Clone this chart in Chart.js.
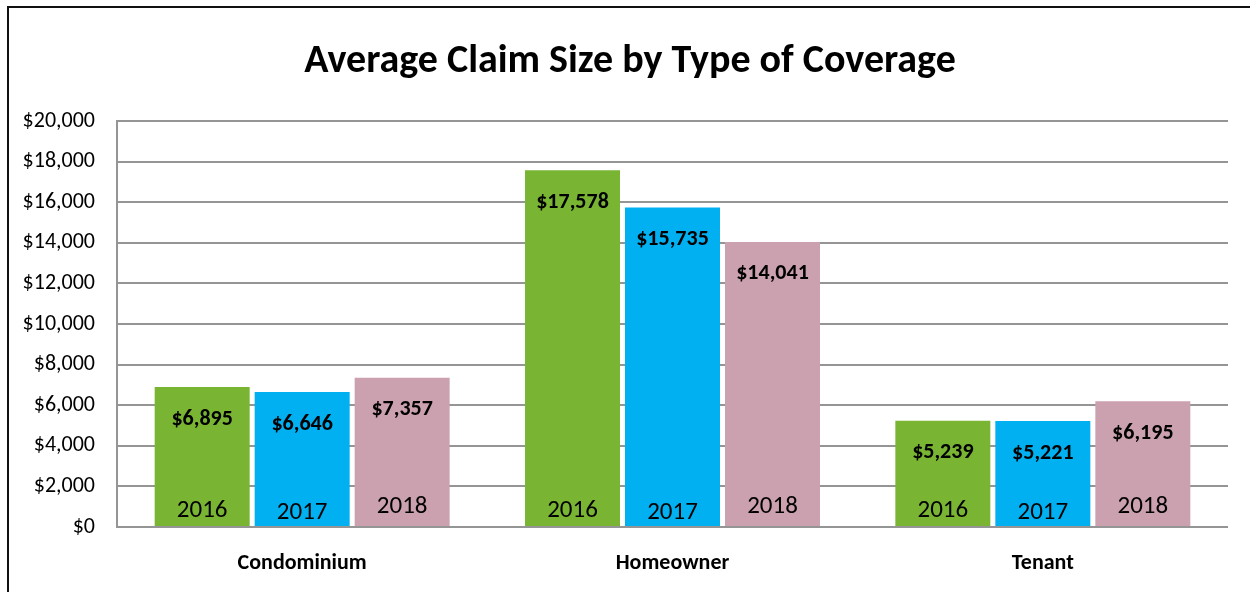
<!DOCTYPE html>
<html>
<head>
<meta charset="utf-8">
<script src="https://cdn.jsdelivr.net/npm/chart.js@4.4.0/dist/chart.umd.min.js"></script>
<style>
  html, body { margin: 0; padding: 0; background: #fff; }
  #wrap { position: relative; width: 1250px; height: 592px; overflow: hidden; }
  #frame { position: absolute; left: 7px; top: 6px; width: 1300px; height: 700px; border: 2px solid #111; box-sizing: border-box; }
  canvas { position: absolute; left: 0; top: 0; }
</style>
</head>
<body>
<div id="wrap">
  <div id="frame"></div>
  <canvas id="mychart" width="1250" height="592"></canvas>
</div>
<script>
var coverage = ['Condominium', 'Homeowner', 'Tenant']
var years = ['2016', '2017', '2018']
var claims2016 = [6895, 17578, 5239]
var claims2017 = [6646, 15735, 5221]
var claims2018 = [7357, 14041, 6195]
var yTicks = [0, 2000, 4000, 6000, 8000, 10000, 12000, 14000, 16000, 18000, 20000]
var chartTitle = 'Average Claim Size by Type of Coverage'

var fontFamily = "Carlito, 'Liberation Sans Narrow', 'DejaVu Sans Condensed', 'Open Sans', sans-serif"
var barColors = ['#79B433', '#00B0F0', '#CCA1AF']
var yearOffset = [15, 13, 19]

function money(v) {
    return '$' + v.toLocaleString('en-US')
}

// title drawn here so it can sit centred on the frame, not on the padded box
var titlePlugin = {
    id: 'titlePlugin',
    afterDraw: function (chart) {
        var ctx = chart.ctx
        ctx.save()
        ctx.fillStyle = '#000'
        ctx.textAlign = 'center'
        ctx.textBaseline = 'middle'
        ctx.font = 'bold 40px ' + fontFamily
        ctx.fillText(chartTitle, 630, 62)
        ctx.restore()
    }
}

var barLabels = {
    id: 'barLabels',
    afterDatasetsDraw: function (chart) {
        var ctx = chart.ctx
        ctx.save()
        ctx.fillStyle = '#000'
        ctx.textAlign = 'center'
        ctx.textBaseline = 'middle'
        chart.data.datasets.forEach(function (ds, i) {
            var meta = chart.getDatasetMeta(i)
            meta.data.forEach(function (bar, j) {
                ctx.font = 'bold 22px ' + fontFamily
                ctx.fillText(money(ds.data[j]), bar.x, bar.y + 32)
                ctx.font = '25px ' + fontFamily
                ctx.fillText(ds.label, bar.x, bar.base - yearOffset[i])
            })
        })
        ctx.restore()
    }
}

var myChart = document.getElementById('mychart').getContext('2d')

var chart = new Chart(myChart, {
    type: 'bar',
    data: {
        labels: coverage,
        datasets: [
            { label: years[0], data: claims2016, backgroundColor: barColors[0] },
            { label: years[1], data: claims2017, backgroundColor: barColors[1] },
            { label: years[2], data: claims2018, backgroundColor: barColors[2] },
        ],
    },
    options: {
        responsive: false,
        animation: false,
        devicePixelRatio: 1,
        categoryPercentage: 0.81,
        barPercentage: 0.95,
        layout: { padding: { left: 8, right: 22, top: 121, bottom: 8 } },
        plugins: {
            legend: { display: false },
            tooltip: { enabled: false },
            title: { display: false },
        },
        scales: {
            x: {
                grid: { display: false, drawTicks: false },
                border: { display: false },
                ticks: {
                    color: '#000',
                    padding: 23,
                    font: { family: fontFamily, size: 22, weight: 'bold' },
                },
                afterFit: function (axis) { axis.height = 592 - 527 - 8 },
            },
            y: {
                min: 0,
                max: 20000,
                afterBuildTicks: function (axis) {
                    axis.ticks = yTicks.map(function (v) { return { value: v } })
                },
                grid: { color: '#959595', lineWidth: 2, drawTicks: false },
                border: { display: true, color: '#959595', width: 2 },
                ticks: {
                    color: '#000',
                    padding: 22,
                    font: { family: fontFamily, size: 22 },
                    callback: function (v) { return money(v) },
                },
                afterFit: function (axis) { axis.width = 117 - 8 },
            },
        },
    },
    plugins: [barLabels, titlePlugin],
})
</script>
</body>
</html>
